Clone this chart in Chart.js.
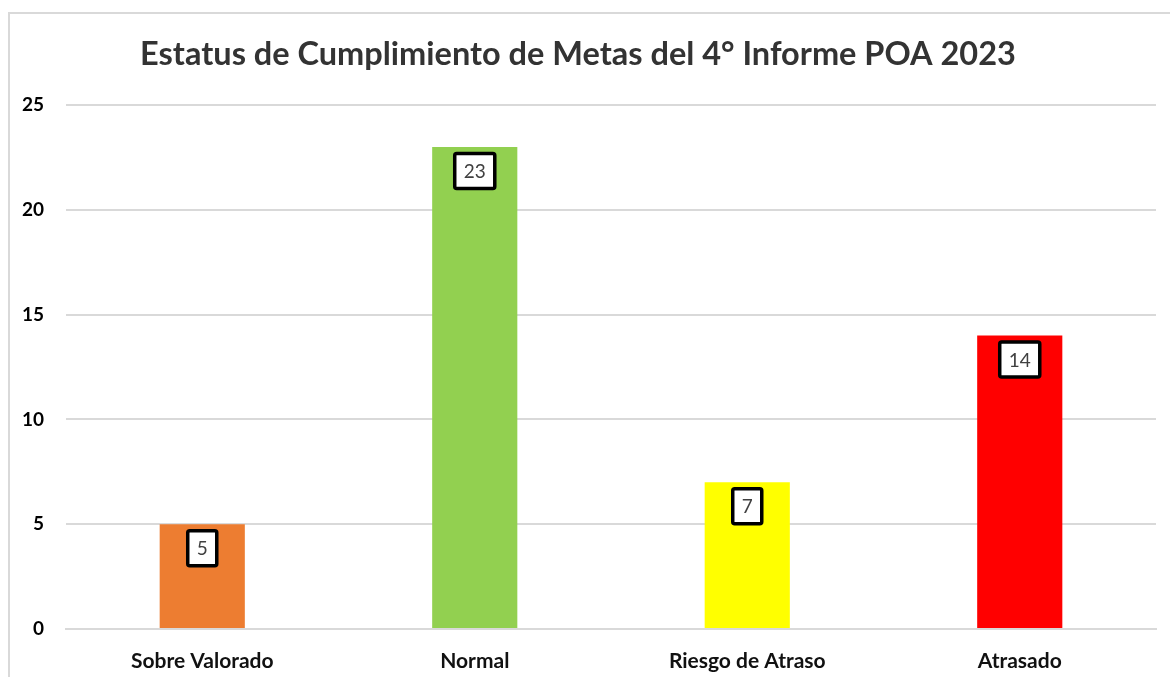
<!DOCTYPE html>
<html>
<head>
<meta charset="utf-8">
<script src="https://cdn.jsdelivr.net/npm/chart.js@4.4.1/dist/chart.umd.min.js"></script>
<style>
  html, body { margin: 0; padding: 0; background: #fff; }
  #wrap { position: relative; width: 1170px; height: 677px; }
</style>
</head>
<body>
<div id="wrap"><canvas id="grafica" width="1170" height="677"></canvas></div>
<script>
// datos del gráfico
const categorias = ['Sobre Valorado', 'Normal', 'Riesgo de Atraso', 'Atrasado'];
const metas = [5, 23, 7, 14];
const colores = ['#ED7D31', '#92D050', '#FFFF00', '#FF0000'];
const titulo = 'Estatus de Cumplimiento de Metas del 4° Informe POA 2023';

// marco gris alrededor del gráfico
const marco = {
  id: 'marco',
  beforeDraw(chart) {
    const ctx = chart.ctx;
    ctx.save();
    ctx.strokeStyle = '#d9d9d9';
    ctx.lineWidth = 2;
    ctx.strokeRect(9, 13, 1200, 700);
    ctx.restore();
  }
};

// etiquetas con caja blanca y borde negro
const etiquetas = {
  id: 'etiquetas',
  afterDatasetsDraw(chart) {
    const ctx = chart.ctx;
    const meta = chart.getDatasetMeta(0);
    ctx.save();
    ctx.font = '19px Lato';
    ctx.textAlign = 'center';
    ctx.textBaseline = 'middle';
    meta.data.forEach((bar, i) => {
      const txt = String(chart.data.datasets[0].data[i]);
      const w = ctx.measureText(txt).width + 18;
      const h = 35;
      const cy = bar.y + 24;
      ctx.beginPath();
      ctx.roundRect(bar.x - w / 2, cy - h / 2, w, h, 2);
      ctx.fillStyle = '#ffffff';
      ctx.fill();
      ctx.lineWidth = 3.5;
      ctx.strokeStyle = '#000000';
      ctx.stroke();
      ctx.fillStyle = '#404040';
      ctx.fillText(txt, bar.x, cy + 1);
    });
    ctx.restore();
  }
};

new Chart(document.getElementById('grafica'), {
  type: 'bar',
  data: {
    labels: categorias,
    datasets: [{
      data: metas,
      backgroundColor: colores,
      borderWidth: 0,
      categoryPercentage: 1,
      barPercentage: 0.3125
    }]
  },
  options: {
    responsive: false,
    animation: false,
    layout: { padding: { top: 20, right: 14, bottom: 0, left: 0 } },
    plugins: {
      legend: { display: false },
      tooltip: { enabled: false },
      title: {
        display: true,
        text: titulo,
        color: '#333333',
        font: { family: 'Lato', size: 32.5, weight: 'bold' },
        padding: { top: 15, bottom: 31 }
      }
    },
    scales: {
      x: {
        grid: { display: false },
        border: { display: true, color: '#d9d9d9', width: 2 },
        ticks: {
          color: '#111111',
          font: { family: 'Lato', size: 21, weight: 'bold' },
          padding: 12,
          maxRotation: 0
        },
        afterFit(scale) { scale.height = 48; }
      },
      y: {
        min: 0,
        max: 25,
        ticks: {
          stepSize: 5,
          color: '#000000',
          font: { family: 'Lato', size: 19, weight: 'bold' },
          padding: 22
        },
        grid: { color: '#d9d9d9', lineWidth: 2, drawTicks: false },
        border: { display: false },
        afterFit(scale) { scale.width = 66; }
      }
    }
  },
  plugins: [marco, etiquetas]
});
</script>
</body>
</html>
